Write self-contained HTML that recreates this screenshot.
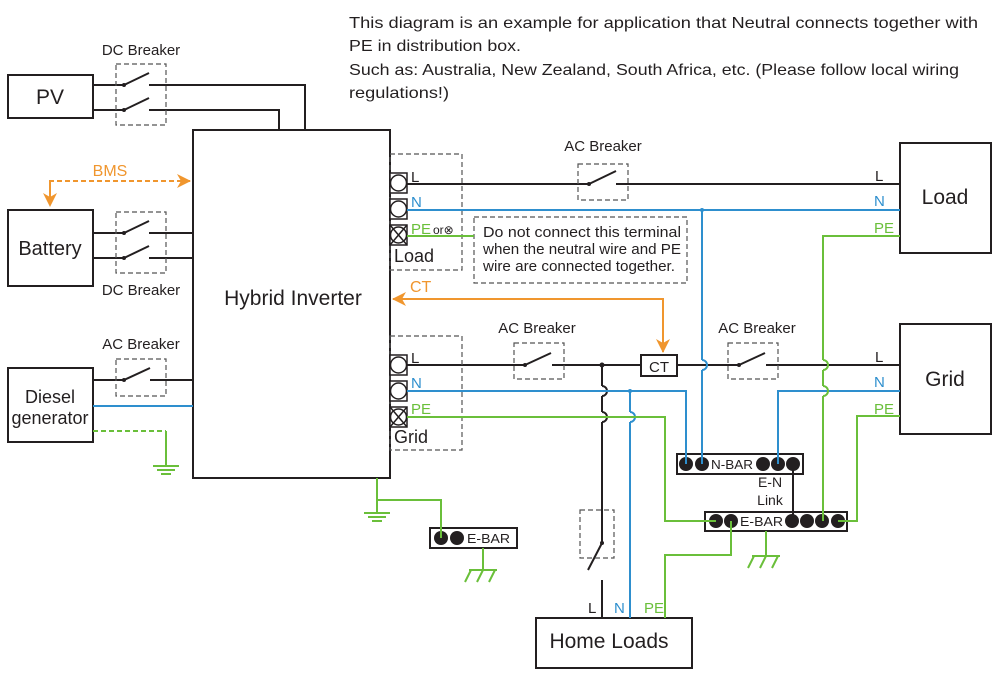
<!DOCTYPE html>
<html><head><meta charset="utf-8"><style>
html,body{margin:0;padding:0;background:#fff}
svg{display:block}
text{font-family:"Liberation Sans",sans-serif;fill:#231f20}
</style></head><body>
<svg width="1000" height="674" viewBox="0 0 1000 674" xmlns="http://www.w3.org/2000/svg">
<defs>
<marker id="oa2" markerWidth="14" markerHeight="14" refX="13" refY="7" orient="auto" markerUnits="userSpaceOnUse"><path d="M0,0 L14,7 L0,14 L4,7 Z" fill="#f0962e"/></marker>
</defs>
<g font-size="16" font-family="Liberation Sans, sans-serif">
<text x="349" y="28" textLength="629" lengthAdjust="spacingAndGlyphs">This diagram is an example for application that Neutral connects together with</text>
<text x="349" y="51" textLength="172" lengthAdjust="spacingAndGlyphs">PE in distribution box.</text>
<text x="349" y="75" textLength="610" lengthAdjust="spacingAndGlyphs">Such as: Australia, New Zealand, South Africa, etc. (Please follow local wiring</text>
<text x="349" y="98" textLength="100" lengthAdjust="spacingAndGlyphs">regulations!)</text>
</g>

<g fill="none" stroke="#231f20" stroke-width="2">
<rect x="8" y="75" width="85" height="43"/>
<rect x="193" y="130" width="197" height="348"/>
<rect x="8" y="210" width="85" height="76"/>
<rect x="8" y="368" width="85" height="74"/>
<rect x="900" y="143" width="91" height="110"/>
<rect x="900" y="324" width="91" height="110"/>
<rect x="536" y="618" width="156" height="50"/>
<polyline points="93,85 124,85"/><line x1="124" y1="85" x2="149" y2="73"/><polyline points="149,85 305,85 305,130"/>
<polyline points="93,110 124,110"/><line x1="124" y1="110" x2="149" y2="98"/><polyline points="149,110 279,110 279,130"/>
<polyline points="93,233 124,233"/><line x1="124" y1="233" x2="149" y2="221"/><polyline points="149,233 193,233"/>
<polyline points="93,258 124,258"/><line x1="124" y1="258" x2="149" y2="246"/><polyline points="149,258 193,258"/>
<polyline points="93,380 124,380"/><line x1="124" y1="380" x2="150" y2="368"/><polyline points="150,380 193,380"/>
<polyline points="407,184 589,184"/><line x1="589" y1="184" x2="616" y2="171"/><polyline points="616,184 900,184"/>
<polyline points="407,365 525,365"/><line x1="525" y1="365" x2="551" y2="353"/><polyline points="552,365 641,365"/>
<rect x="641" y="355" width="36" height="21"/>
<polyline points="677,365 739,365"/>
<line x1="739" y1="365" x2="765" y2="353"/><polyline points="766,365 900,365"/>
<polyline points="602,365 602,386"/><path d="M602,386 a5,5 0 0 1 0,10"/><polyline points="602,396 602,412"/><path d="M602,412 a5,5 0 0 1 0,10"/><polyline points="602,422 602,543"/>
<line x1="602" y1="543" x2="588" y2="570"/><polyline points="602,580 602,618"/>
<polyline points="793,464 793,520"/>
<rect x="677" y="454" width="126" height="20"/>
<rect x="705" y="512" width="142" height="19"/>
<rect x="430" y="528" width="87" height="20"/>
</g>
<g fill="#231f20">
<circle cx="124" cy="85" r="2"/><circle cx="124" cy="110" r="2"/><circle cx="124" cy="233" r="2"/><circle cx="124" cy="258" r="2"/><circle cx="124" cy="380" r="2"/>
<circle cx="589" cy="184" r="2"/><circle cx="525" cy="365" r="2"/><circle cx="739" cy="365" r="2"/><circle cx="602" cy="365" r="2.5"/><circle cx="602" cy="543" r="2"/>
<circle cx="686" cy="464" r="7"/><circle cx="702" cy="464" r="7"/><circle cx="763" cy="464" r="7"/><circle cx="778" cy="464" r="7"/><circle cx="793" cy="464" r="7"/>
<circle cx="716" cy="521" r="7"/><circle cx="731" cy="521" r="7"/><circle cx="792" cy="521" r="7"/><circle cx="807" cy="521" r="7"/><circle cx="822" cy="521" r="7"/><circle cx="838" cy="521" r="7"/>
<circle cx="441" cy="538" r="7"/><circle cx="457" cy="538" r="7"/>
</g>
<g fill="none" stroke="#555" stroke-width="1.2" stroke-dasharray="5,3">
<rect x="116" y="64" width="50" height="61"/>
<rect x="116" y="212" width="50" height="61"/>
<rect x="116" y="359" width="50" height="37"/>
<rect x="390" y="154" width="72" height="116"/>
<rect x="390" y="336" width="72" height="114"/>
<rect x="474" y="217" width="213" height="66"/>
<rect x="578" y="164" width="50" height="36"/>
<rect x="514" y="343" width="50" height="36"/>
<rect x="728" y="343" width="50" height="36"/>
<rect x="580" y="510" width="34" height="48"/>
</g>
<g fill="#fff" stroke="#231f20" stroke-width="1.5">
<rect x="390" y="173" width="17" height="20"/><circle cx="398.5" cy="183" r="8"/>
<rect x="390" y="199" width="17" height="20"/><circle cx="398.5" cy="209" r="8"/>
<rect x="390" y="225" width="17" height="20"/><circle cx="398.5" cy="235" r="8"/><path d="M390,225 L407,245 M407,225 L390,245"/>
<rect x="390" y="355" width="17" height="20"/><circle cx="398.5" cy="365" r="8"/>
<rect x="390" y="381" width="17" height="20"/><circle cx="398.5" cy="391" r="8"/>
<rect x="390" y="407" width="17" height="20"/><circle cx="398.5" cy="417" r="8"/><path d="M390,407 L407,427 M407,407 L390,427"/>
</g>
<g fill="none" stroke="#2e8fce" stroke-width="2">
<line x1="93" y1="406" x2="193" y2="406"/>
<line x1="407" y1="210" x2="900" y2="210"/>
<polyline points="702,210 702,360"/><path d="M702,360 a5,5 0 0 1 0,10"/><polyline points="702,370 702,464"/>
<polyline points="407,391 686,391 686,464"/>
<polyline points="630,391 630,412"/><path d="M630,412 a5,5 0 0 1 0,10"/><polyline points="630,422 630,618"/>
<polyline points="900,391 778,391 778,464"/>
</g>
<circle cx="702" cy="210" r="2" fill="#2e8fce"/><circle cx="630" cy="391" r="2" fill="#2e8fce"/>
<g fill="none" stroke="#6abf3a" stroke-width="2">
<line x1="407" y1="236" x2="474" y2="236"/>
<polyline points="407,417 665,417 665,521 716,521"/>
<polyline points="900,236 823,236 823,360"/><path d="M823,360 a5,5 0 0 1 0,10"/><polyline points="823,370 823,386"/><path d="M823,386 a5,5 0 0 1 0,10"/><polyline points="823,396 823,521"/>
<polyline points="900,416 857,416 857,521 838,521"/>
<polyline points="731,521 731,555 665,555 665,618"/>
<polyline points="766,531 766,555"/><path d="M752,556 L780,556 M754,556 L748,568 M766,556 L760,568 M778,556 L772,568"/>
<polyline points="483,548 483,570"/><path d="M469,570 L497,570 M471,570 L465,582 M483,570 L477,582 M495,570 L489,582"/>
<polyline points="377,478 377,512"/><polyline points="377,500 441,500 441,538"/>
<path d="M364,513 L390,513 M368,517 L386,517 M372,521 L382,521"/>
<polyline points="93,431 166,431" stroke-dasharray="5,3"/><polyline points="166,431 166,465"/>
<path d="M153,466 L179,466 M157,470 L175,470 M161,474 L171,474"/>
</g>
<g fill="none" stroke="#f0962e" stroke-width="2">
<polyline points="50,198 50,181 190,181" stroke-dasharray="5,3" marker-end="url(#oa2)"/>
<line x1="50" y1="182" x2="50" y2="206" stroke-dasharray="5,3" marker-end="url(#oa2)"/>
<polyline points="663,343 663,299 393,299" marker-end="url(#oa2)"/>
<line x1="663" y1="330" x2="663" y2="352" marker-end="url(#oa2)"/>
</g>
<g font-size="15">
<text x="141" y="55" text-anchor="middle">DC Breaker</text>
<text x="141" y="295" text-anchor="middle">DC Breaker</text>
<text x="141" y="349" text-anchor="middle">AC Breaker</text>
<text x="603" y="151" text-anchor="middle">AC Breaker</text>
<text x="537" y="333" text-anchor="middle">AC Breaker</text>
<text x="757" y="333" text-anchor="middle">AC Breaker</text>
<text x="110" y="176" text-anchor="middle" style="fill:#f0962e" font-size="16">BMS</text>
<text x="410" y="292" style="fill:#f0962e" font-size="16">CT</text>
<text x="659" y="372" text-anchor="middle">CT</text>
<text x="411" y="182">L</text>
<text x="411" y="207" style="fill:#2e8fce">N</text>
<text x="411" y="234" style="fill:#6abf3a">PE</text>
<text x="433" y="234" font-size="12">or⊗</text>
<text x="411" y="363">L</text>
<text x="411" y="388" style="fill:#2e8fce">N</text>
<text x="411" y="414" style="fill:#6abf3a">PE</text>
<text x="875" y="181">L</text>
<text x="874" y="206" style="fill:#2e8fce">N</text>
<text x="874" y="233" style="fill:#6abf3a">PE</text>
<text x="875" y="362">L</text>
<text x="874" y="387" style="fill:#2e8fce">N</text>
<text x="874" y="414" style="fill:#6abf3a">PE</text>
<text x="588" y="613">L</text>
<text x="614" y="613" style="fill:#2e8fce">N</text>
<text x="644" y="613" style="fill:#6abf3a">PE</text>
<text x="711" y="469" font-size="13" textLength="42" lengthAdjust="spacingAndGlyphs">N-BAR</text>
<text x="740" y="526" font-size="13" textLength="43" lengthAdjust="spacingAndGlyphs">E-BAR</text>
<text x="467" y="543" font-size="13" textLength="43" lengthAdjust="spacingAndGlyphs">E-BAR</text>
<text x="770" y="487" text-anchor="middle" font-size="14">E-N</text>
<text x="770" y="505" text-anchor="middle" font-size="14">Link</text>
<text x="483" y="237" textLength="198" lengthAdjust="spacingAndGlyphs">Do not connect this terminal</text>
<text x="483" y="254" textLength="198" lengthAdjust="spacingAndGlyphs">when the neutral wire and PE</text>
<text x="483" y="271" textLength="192" lengthAdjust="spacingAndGlyphs">wire are connected together.</text>
</g>
<g font-size="18">
<text x="394" y="262">Load</text>
<text x="394" y="443">Grid</text>
<text x="50" y="104" text-anchor="middle" font-size="21">PV</text>
<text x="50" y="255" text-anchor="middle" font-size="20">Battery</text>
<text x="50" y="403" text-anchor="middle">Diesel</text>
<text x="50" y="424" text-anchor="middle">generator</text>
<text x="293" y="305" text-anchor="middle" font-size="21">Hybrid Inverter</text>
<text x="945" y="204" text-anchor="middle" font-size="21">Load</text>
<text x="945" y="386" text-anchor="middle" font-size="21">Grid</text>
<text x="609" y="648" text-anchor="middle" font-size="21">Home Loads</text>
</g>
</svg>
</body></html>
